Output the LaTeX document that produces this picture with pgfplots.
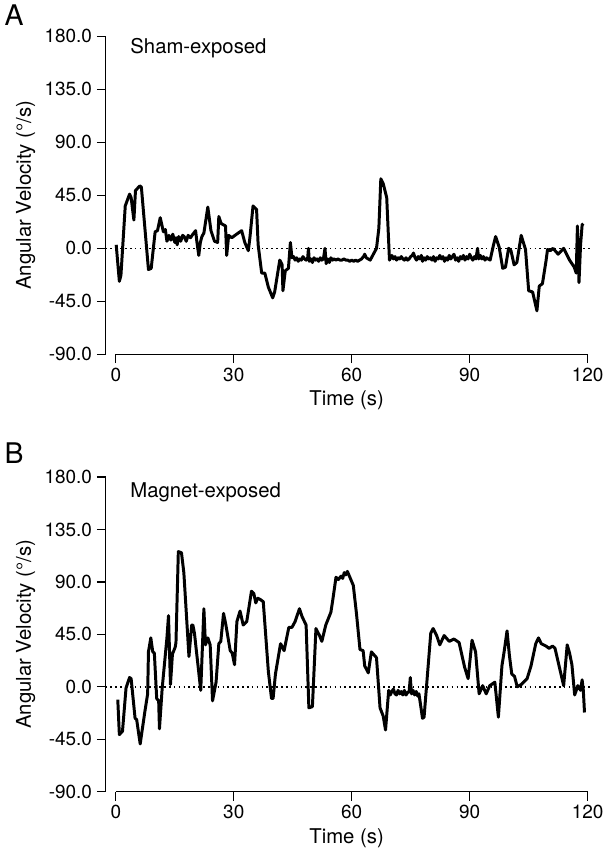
\documentclass[border=0pt]{standalone}
\usepackage{fontspec}
\setmainfont{TeX Gyre Heros}
\usepackage{pgfplots}
\pgfplotsset{compat=1.18}

\pgfplotsset{
  igor/.style={
    scale only axis,
    width=356pt,
    xmin=-2.6, xmax=120,
    ymin=-90, ymax=180,
    xtick={0,30,60,90,120},
    ytick={-90,-45,0,45,90,135,180},
    yticklabel style={/pgf/number format/.cd, fixed, fixed zerofill, precision=1},
    /pgf/number format/assume math mode=true,
    axis x line*=bottom,
    axis y line*=left,
    separate axis lines,
    y axis line style={-, line width=0.9pt},
    x axis line style={-, line width=0.9pt, shorten <=7.5pt},
    tick align=outside,
    major tick length=6.5pt,
    tick style={line width=0.9pt, black},
    ticklabel style={font=\fontsize{14}{16}\selectfont},
    label style={font=\fontsize{15}{18}\selectfont},
    xlabel={Time (s)},
    ylabel={Angular Velocity (°/s)},
    clip=false,
    trace/.style={black, line width=2.2pt, line join=round},
    zero/.style={black, line width=1pt, dash pattern=on 1.2pt off 2.4pt},
  },
}

\begin{document}
\begin{tikzpicture}
\begin{axis}[igor, height=235pt, at={(0,0)}, anchor=north west]
\addplot[zero] coordinates {(-2.6,0) (121,0)};
\addplot[trace] coordinates {
(0.1,3) (0.9,-28) (1.3,-23) (2.4,36) (3.5,46) (3.9,43) (4.3,32) (4.6,24)
(5.0,49) (6.1,53) (6.5,52) (8.3,-18) (9.0,-17) (10.0,14) (10.6,15) (11.3,26)
(12.1,14) (12.6,16) (13.0,6) (13.5,11) (14.0,7) (14.5,12) (15.0,5) (15.3,9)
(15.6,3) (16.0,10) (16.5,6) (17.0,11) (17.4,10) (17.9,6) (18.4,11) (19.0,9)
(19.6,12) (20.3,15) (20.6,6) (21.1,-6) (21.5,5) (21.9,10) (22.4,13) (23.4,35)
(24.2,15) (25.1,6) (25.9,5) (26.2,27) (26.8,21) (27.9,19) (28.2,-6) (28.7,11)
(29.5,9) (30.3,11) (32.0,15) (32.8,5) (33.7,-2) (34.1,9) (34.9,36) (35.8,33)
(36.2,3) (37.1,-21) (37.9,-21) (38.8,-33) (39.9,-42) (40.4,-37) (41.7,-10)
(42.3,-14) (42.5,-36) (43.1,-19) (43.9,-17) (44.4,5) (44.8,-8)
(45.2,-7) (45.6,-10) (46.0,-8) (46.4,-11) (46.8,-9) (47.2,-10) (47.6,-7)
(48.0,-9) (48.4,-10) (48.8,-8) (49.0,0) (49.2,-11) (49.6,-9) (50.0,-12)
(50.4,-8) (50.8,-10) (51.2,-9) (51.6,-11) (52.0,-8) (52.4,-10) (52.8,-9)
(53.2,0) (53.5,-13) (53.9,-9) (54.3,-12) (54.7,-8) (55.1,-10) (55.5,-9)
(56,-10) (56.5,-9) (57,-10) (57.5,-10) (58,-9) (58.5,-10) (59,-10)
(59.5,-11) (60,-10) (60.5,-11) (61,-10) (61.5,-11) (62,-10) (62.5,-9)
(63,-7) (63.3,-5) (63.7,-8) (64.2,-9) (64.7,-10) (66.3,0)
(66.9,17) (67.4,59) (68.0,55) (68.9,43) (69.6,-10) (70.2,-6)
(70.6,-9) (71.0,-7) (71.4,-10) (71.8,-8) (72.2,-9) (72.6,-7) (73.0,-9)
(73.4,-10) (73.8,-8) (74.2,-10) (74.6,-9) (75.0,-7) (75.4,-6) (75.7,-4)
(76.1,-8) (76.5,-10) (76.9,-7) (77.3,-9) (77.7,-6) (78.0,-11) (78.4,-8)
(78.8,-10) (79.2,-7) (79.6,-9) (80.0,-8) (80.4,-10) (80.8,-7) (81.2,-11)
(81.6,-8) (82.0,-9) (82.4,-6) (82.8,-9) (83.2,-7) (83.6,-11) (84.0,-8)
(84.4,-10) (84.8,-6) (85.2,-9) (85.6,-7) (86.0,-5) (86.4,-10) (86.8,-8)
(87.2,-11) (87.6,-7) (88.0,-9) (88.4,-6) (88.8,-10) (89.2,-7) (89.6,-9)
(90.0,-5) (90.4,-8) (90.8,-10) (91.2,-7) (91.6,-9) (92.0,0) (92.3,-9)
(92.7,-6) (93.1,-9) (93.5,-7) (93.9,-10) (94.3,-8) (94.7,-9) (95.2,-10)
(96.0,2) (96.6,10) (97.5,1) (98.4,-17) (99.1,-16) (99.9,0) (100.5,-2)
(101.3,-14) (102.0,-12) (103.1,11) (104.2,-1) (105.0,-36) (106.0,-37)
(107.1,-53) (107.7,-32) (108.5,-30) (109.4,-11) (109.8,-1) (110.5,-2)
(111.2,0) (112.5,-5) (113.9,0) (115.4,-10) (116.6,-16) (117.1,-21)
(117.4,19) (117.8,-29) (118.2,3) (118.6,20) (118.9,21)
};
\node[anchor=west, font=\fontsize{15}{18}\selectfont] at (axis cs:2.5,170) {Sham-exposed};
\node[font=\fontsize{21}{24}\selectfont] at (rel axis cs:-0.19,1.067) {A};
\end{axis}

\begin{axis}[igor, height=232.5pt, at={(0,-325.5pt)}, anchor=north west]
\addplot[zero] coordinates {(-2.6,0) (121,0)};
\addplot[trace] coordinates {
(0.5,-11) (0.9,-41) (1.7,-38) (2.6,-1) (3.5,8) (3.9,7) (4.9,-27) (5.3,-28)
(6.2,-49) (7.4,-21) (8.1,-6) (8.3,30) (8.9,42) (9.4,30) (9.8,29) (10.4,-10)
(10.9,-12) (11.1,-36) (11.8,-1) (13.0,42) (13.4,61) (13.9,2) (14.4,28)
(15.1,34) (15.3,38) (15.9,116) (16.7,115) (17.3,98) (17.9,65) (18.6,26)
(19.3,53) (19.6,53) (20.0,46) (21.6,-3) (22.4,67) (22.8,36) (23.4,42)
(24.0,36) (24.6,-12) (25.5,4) (26.2,37) (26.7,39) (27.4,63) (28.0,53)
(29.1,31) (29.6,29) (30.2,19) (30.8,56) (31.6,65) (32.4,53) (33.3,56)
(34.5,82) (35.1,80) (35.6,72) (36.1,76) (36.7,75) (37.5,73) (38.8,13)
(39.6,-10) (40.0,-10) (40.6,11) (41.9,37) (42.8,31) (44.0,51) (44.8,51)
(45.6,56) (46.7,67) (47.4,60) (48.4,53) (49.1,-18) (50.0,-17) (50.9,50)
(51.8,44) (52.4,39) (53.4,53) (54.7,64) (55.2,75) (56.0,94) (56.6,92)
(57.3,95) (57.7,93) (58.1,98) (58.5,96) (58.9,99) (60.4,87) (61.2,63)
(62.1,32) (62.9,31) (63.3,18) (64.2,12) (65.0,30) (66.3,25) (67.2,-18)
(68.0,-25) (68.6,-37) (69.4,-3) (69.8,-7) (70.2,-4) (70.6,-2) (71.0,-6)
(71.4,-7) (71.8,-3) (72.2,-6) (72.6,-4) (73.0,-7) (73.4,-3) (73.8,-7)
(74.2,-5) (74.6,-4) (74.9,8) (75.2,-6) (75.6,-3) (76.0,-7) (76.4,-4)
(76.8,-8) (77.1,-6) (78.0,-27) (78.4,-26)
(80.1,46) (80.7,50) (81.6,44) (82.4,36) (83.5,44) (84.8,39) (86.0,41)
(87.3,38) (88.7,17) (89.6,7) (90.6,40) (91.5,30) (92.4,-6) (93.3,1)
(94.2,-6) (95.1,1) (96.4,4) (97.3,-26) (98.2,18) (98.8,31) (99.5,48)
(100.1,27) (100.7,11) (101.4,9) (102.1,0) (103.1,2) (104.6,7) (105.6,18)
(106.8,37) (107.5,42) (108.2,37) (109.4,35) (110.2,33) (111.1,35) (111.7,33)
(112.8,17) (113.9,1) (114.8,36) (115.4,29) (116.0,19) (116.7,-7) (117.5,1)
(118.2,-3) (118.6,6) (118.9,-3) (119.2,-22)
};
\node[anchor=west, font=\fontsize{15}{18}\selectfont] at (axis cs:2.5,167) {Magnet-exposed};
\node[font=\fontsize{21}{24}\selectfont] at (rel axis cs:-0.19,1.077) {B};
\end{axis}
\end{tikzpicture}
\end{document}
